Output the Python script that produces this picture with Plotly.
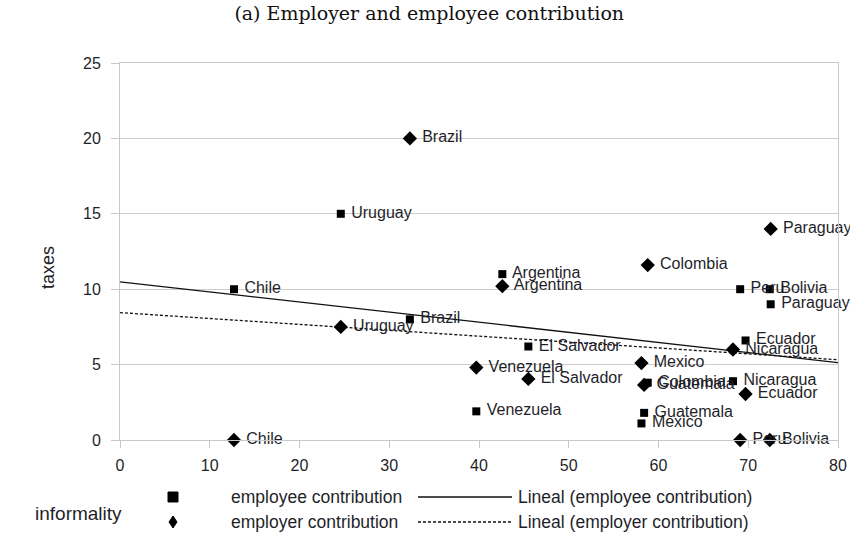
import numpy as np
import plotly.graph_objects as go

countries = ["Chile", "Uruguay", "Brazil", "Argentina", "El Salvador", "Venezuela",
             "Colombia", "Guatemala", "Mexico", "Nicaragua", "Ecuador", "Peru",
             "Bolivia", "Paraguay"]
informality = [12.7, 24.6, 32.3, 42.6, 45.5, 39.7, 58.8, 58.4, 58.1, 68.3, 69.7, 69.1, 72.4, 72.5]
employee = [10.0, 15.0, 8.0, 11.0, 6.2, 1.9, 3.8, 1.8, 1.1, 3.9, 6.6, 10.0, 10.0, 9.0]
employer = [0.0, 7.5, 20.0, 10.2, 4.05, 4.8, 11.6, 3.65, 5.1, 6.0, 3.05, 0.0, 0.0, 14.0]

x_ticks = [0, 10, 20, 30, 40, 50, 60, 70, 80]
y_ticks = [0, 5, 10, 15, 20, 25]

W, H = 850, 537
ML, MR, MT, MB = 120, 12, 63, 97
PW, PH = W - ML - MR, H - MT - MB

def px(xp):
    return (xp - ML) / PW

def py(yp):
    return (H - MB - yp) / PH

TXT = "#1f1f2a"
FONT = "Liberation Sans, Arial, sans-serif"

fig = go.Figure()

# trend lines
xs = np.array([0, 80], dtype=float)
b1 = np.polyfit(informality, employee, 1)
b2 = np.polyfit(informality, employer, 1)
fig.add_trace(go.Scatter(x=xs, y=np.polyval(b1, xs), mode="lines",
                         line=dict(color="#111", width=1.3), showlegend=False, hoverinfo="skip"))
fig.add_trace(go.Scatter(x=xs, y=np.polyval(b2, xs), mode="lines",
                         line=dict(color="#111", width=1.3, dash="3px,2px"), showlegend=False, hoverinfo="skip"))

fig.add_trace(go.Scatter(x=informality, y=employee, mode="markers+text", text=countries,
                         texttemplate=" %{text}", textposition="middle right",
                         textfont=dict(family=FONT, size=16, color=TXT),
                         marker=dict(symbol="square", size=8, color="#000"),
                         showlegend=False, cliponaxis=False))
fig.add_trace(go.Scatter(x=informality, y=employer, mode="markers+text", text=countries,
                         texttemplate=" %{text}", textposition="middle right",
                         textfont=dict(family=FONT, size=16, color=TXT),
                         marker=dict(symbol="diamond", size=11, color="#000"),
                         showlegend=False, cliponaxis=False))

shapes = []
# legend glyphs
shapes.append(dict(type="rect", xref="paper", yref="paper",
                   x0=px(168), x1=px(178), y0=py(502), y1=py(492),
                   fillcolor="#000", line=dict(color="#000", width=1)))
shapes.append(dict(type="path", xref="paper", yref="paper",
                   path=f"M {px(173)} {py(516)} L {px(177)} {py(522)} L {px(173)} {py(528)} L {px(169)} {py(522)} Z",
                   fillcolor="#000", line=dict(color="#000", width=1)))
shapes.append(dict(type="line", xref="paper", yref="paper",
                   x0=px(418), x1=px(512), y0=py(497), y1=py(497),
                   line=dict(color="#111", width=1.3)))
shapes.append(dict(type="line", xref="paper", yref="paper",
                   x0=px(418), x1=px(512), y0=py(522), y1=py(522),
                   line=dict(color="#111", width=1.3, dash="3px,2px")))

annotations = []
def txt(s, x, y, size=17.5, anchor="left", angle=0):
    annotations.append(dict(text=s, xref="paper", yref="paper", x=px(x), y=py(y),
                            xanchor=anchor, yanchor="middle", showarrow=False, textangle=angle,
                            font=dict(family=FONT, size=size, color=TXT)))

txt("employee contribution", 229, 497)
txt("employer contribution", 229, 522)
txt("Lineal (employee contribution)", 516, 497)
txt("Lineal (employer contribution)", 516, 522)
txt("informality", 78, 513, size=19, anchor="center")
txt("taxes", 48, 268, size=18, anchor="center", angle=-90)

fig.update_layout(
    width=W, height=H, autosize=False,
    margin=dict(l=ML, r=MR, t=MT, b=MB),
    paper_bgcolor="white", plot_bgcolor="white",
    title=dict(text="(a) Employer and employee contribution", x=0.505, xref="container",
               y=1 - 13 / H, yref="container", xanchor="center", yanchor="middle",
               font=dict(family="DejaVu Serif, serif", size=19, color="#111")),
    shapes=shapes, annotations=annotations,
    xaxis=dict(range=[0, 80], tickvals=x_ticks, showgrid=False, zeroline=False, automargin=False,
               showline=True, linecolor="#c8c8c8", linewidth=1, mirror=True,
               ticks="outside", ticklen=7, tickcolor="#c8c8c8", ticklabelstandoff=4,
               tickfont=dict(family=FONT, size=16, color=TXT)),
    yaxis=dict(range=[0, 25], tickvals=y_ticks, showgrid=True, gridcolor="#cdcdcd", zeroline=False,
               automargin=False,
               showline=True, linecolor="#c8c8c8", linewidth=1, mirror=True,
               ticks="outside", ticklen=8, tickcolor="#c8c8c8", ticklabelstandoff=7,
               tickfont=dict(family=FONT, size=16, color=TXT)),
)

fig.write_html("out.html", config={"displayModeBar": False, "responsive": False},
               post_script="document.body.style.margin='0';document.body.style.overflow='hidden';")
